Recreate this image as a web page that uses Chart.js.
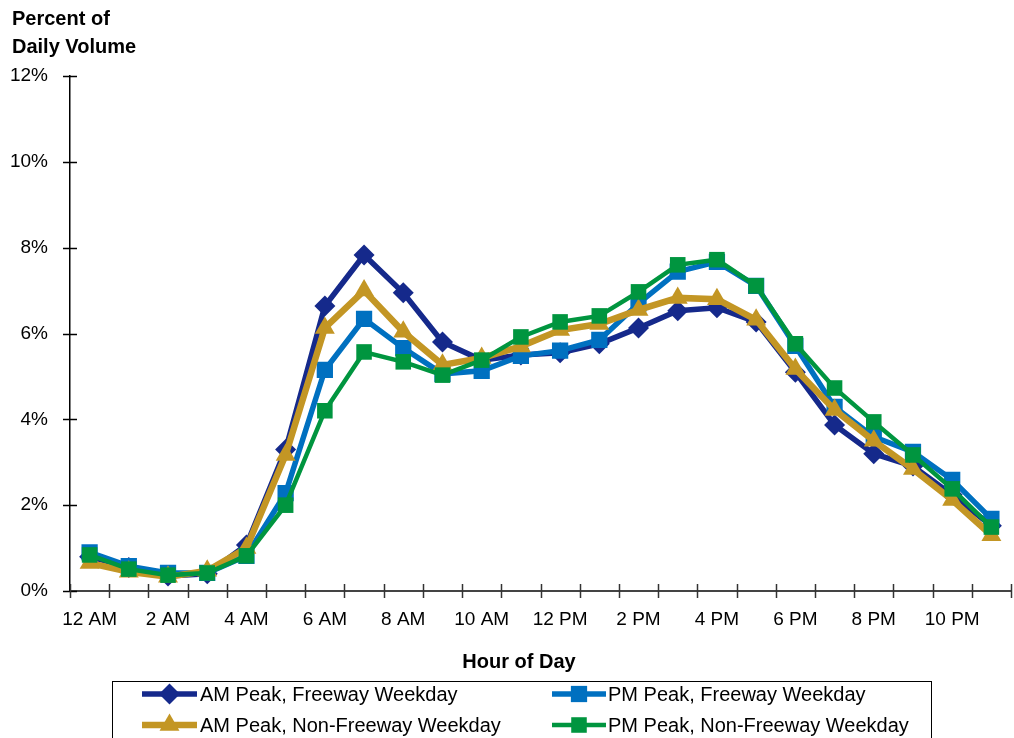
<!DOCTYPE html>
<html>
<head>
<meta charset="utf-8">
<script src="https://cdn.jsdelivr.net/npm/chart.js@4.4.1/dist/chart.umd.min.js"></script>
<style>
  html, body { margin: 0; padding: 0; background: #fff; }
  #wrap { position: relative; width: 1014px; height: 738px; overflow: hidden; }
  canvas { display: block; }
</style>
</head>
<body>
<div id="wrap"><canvas id="c" width="1014" height="738"></canvas></div>
<script>
// Hour-of-day categories and tick labels
const hours = ['12 AM','1 AM','2 AM','3 AM','4 AM','5 AM','6 AM','7 AM','8 AM','9 AM','10 AM','11 AM',
               '12 PM','1 PM','2 PM','3 PM','4 PM','5 PM','6 PM','7 PM','8 PM','9 PM','10 PM','11 PM'];
const yTicks = [0, 2, 4, 6, 8, 10, 12];

// Share of daily volume by hour (%)
const amFreeway    = [0.80,0.55,0.35,0.40,1.07,3.30,6.64,7.83,6.95,5.80,5.38,5.50,5.55,5.76,6.13,6.53,6.60,6.27,5.10,3.87,3.20,2.91,2.24,1.52];
const pmFreeway    = [0.90,0.58,0.42,0.42,0.82,2.28,5.15,6.34,5.66,5.06,5.13,5.48,5.60,5.85,6.70,7.44,7.67,7.11,5.71,4.29,3.59,3.24,2.59,1.68];
const amNonFreeway = [0.65,0.45,0.33,0.47,1.00,3.17,6.13,7.00,6.04,5.27,5.43,5.70,6.08,6.22,6.55,6.83,6.80,6.32,5.17,4.22,3.50,2.84,2.12,1.30];
const pmNonFreeway = [0.84,0.51,0.37,0.42,0.82,2.00,4.20,5.57,5.34,5.03,5.38,5.92,6.27,6.41,6.97,7.60,7.72,7.11,5.76,4.73,3.94,3.17,2.38,1.49];

const FONT = '"Liberation Sans", Arial, sans-serif';

const series = [
  { label: 'AM Peak, Freeway Weekday',     data: amFreeway,    color: '#15298B', style: 'rectRot',  radius: 10.5, width: 5.5, order: 4 },
  { label: 'PM Peak, Freeway Weekday',     data: pmFreeway,    color: '#0070C0', style: 'rect',     radius: 11.5, width: 5.5, order: 3 },
  { label: 'AM Peak, Non-Freeway Weekday', data: amNonFreeway, color: '#C39624', style: 'triangle', radius: 11.5, width: 6.5, order: 2 },
  { label: 'PM Peak, Non-Freeway Weekday', data: pmNonFreeway, color: '#00953F', style: 'rect',     radius: 11,   width: 4.5, order: 1 }
];

const datasets = series.map(s => ({
  label: s.label,
  data: s.data,
  borderColor: s.color,
  backgroundColor: s.color,
  borderWidth: s.width,
  pointStyle: s.style,
  pointRadius: s.radius,
  pointHoverRadius: s.radius,
  pointBorderWidth: 0,
  pointBackgroundColor: s.color,
  tension: 0,
  order: s.order
}));

// Cross-style tick marks on both axes
const tickMarks = {
  id: 'tickMarks',
  beforeDatasetsDraw(chart) {
    const { ctx, scales: { x, y }, chartArea } = chart;
    ctx.save();
    ctx.strokeStyle = '#000';
    ctx.lineWidth = 1.5;
    y.ticks.forEach((t, i) => {
      const py = Math.round(y.getPixelForTick(i)) + 0.5;
      ctx.beginPath();
      ctx.moveTo(chartArea.left - 7, py);
      ctx.lineTo(chartArea.left + 7, py);
      ctx.stroke();
    });
    ctx.strokeStyle = '#333';
    const n = hours.length;
    const step = (chartArea.right - chartArea.left) / n;
    for (let i = 0; i <= n; i++) {
      const px = Math.round(chartArea.left + i * step) + 0.5;
      ctx.beginPath();
      ctx.moveTo(px, chartArea.bottom - 7);
      ctx.lineTo(px, chartArea.bottom + 7);
      ctx.stroke();
    }
    ctx.restore();
  }
};

// Axis captions and boxed legend
const decorations = {
  id: 'decorations',
  afterDraw(chart) {
    const { ctx } = chart;
    ctx.save();
    ctx.fillStyle = '#000';
    ctx.font = 'bold 20px ' + FONT;
    ctx.textAlign = 'left';
    ctx.textBaseline = 'middle';
    ctx.fillText('Percent of', 12, 19);
    ctx.fillText('Daily Volume', 12, 47);

    ctx.textAlign = 'center';
    ctx.fillText('Hour of Day', 519, 662);
    ctx.textAlign = 'left';

    ctx.strokeStyle = '#000';
    ctx.lineWidth = 1;
    ctx.strokeRect(112.5, 681.5, 819, 90);

    const cols = [{ x0: 142, x1: 197, tx: 200 }, { x0: 552, x1: 606, tx: 608 }];
    const rows = [694, 725];
    series.forEach((s, i) => {
      const c = cols[i % 2], r = rows[Math.floor(i / 2)];
      ctx.strokeStyle = s.color;
      ctx.lineWidth = s.width;
      ctx.beginPath();
      ctx.moveTo(c.x0, r);
      ctx.lineTo(c.x1, r);
      ctx.stroke();
      ctx.fillStyle = s.color;
      Chart.helpers.drawPoint(ctx, { pointStyle: s.style, radius: s.radius, borderWidth: 0 }, (c.x0 + c.x1) / 2, r);
      ctx.fillStyle = '#000';
      ctx.font = '20px ' + FONT;
      ctx.textBaseline = 'middle';
      ctx.fillText(s.label, c.tx, r + 1);
    });
    ctx.restore();
  }
};

new Chart(document.getElementById('c'), {
  type: 'line',
  data: { labels: hours, datasets },
  options: {
    responsive: false,
    animation: false,
    events: [],
    layout: { autoPadding: false, padding: { left: 0, top: 76, right: 3, bottom: 57 } },
    plugins: { legend: { display: false }, tooltip: { enabled: false }, title: { display: false } },
    scales: {
      x: {
        type: 'category',
        offset: true,
        grid: { display: false, offset: true },
        border: { display: true, color: '#444', width: 2 },
        ticks: {
          autoSkip: false, maxRotation: 0, minRotation: 0,
          color: '#000', font: { family: FONT, size: 19 }, padding: 9,
          callback: (v, i) => (i % 2 === 0 ? hours[i] : '')
        },
        title: { display: false },
        afterFit: s => { s.height = 90; s.paddingLeft = 0; s.paddingRight = 0; }
      },
      y: {
        min: 0, max: 12,
        afterBuildTicks: s => { s.ticks = yTicks.map(v => ({ value: v })); },
        grid: { display: false },
        border: { display: true, color: '#000', width: 1.5 },
        ticks: { color: '#000', font: { family: FONT, size: 19 }, padding: 14, callback: v => v + '%' },
        afterFit: s => { s.width = 70; }
      }
    }
  },
  plugins: [tickMarks, decorations]
});
</script>
</body>
</html>
